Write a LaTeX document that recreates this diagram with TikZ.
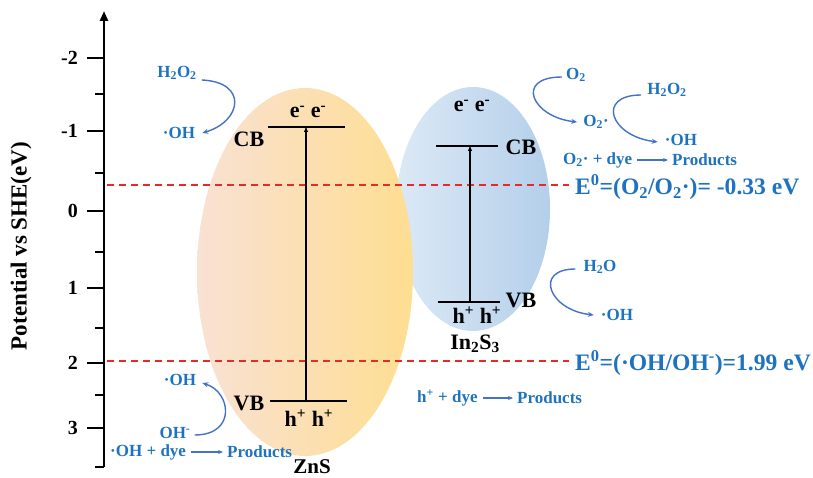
\documentclass[tikz,border=0pt]{standalone}
\usepackage{fontspec}
\setmainfont{Liberation Serif}
\usetikzlibrary{shapes.geometric,arrows.meta,calc}
\definecolor{tblue}{RGB}{30,115,192}
\definecolor{ablue}{RGB}{68,114,196}
\definecolor{rdash}{RGB}{235,40,40}
\definecolor{znL}{RGB}{249,225,212}
\definecolor{znR}{RGB}{254,222,145}
\definecolor{inL}{RGB}{220,233,246}
\definecolor{inR}{RGB}{180,207,234}
\newcommand\fsz[1]{\fontsize{#1}{#1}\selectfont}
\begin{document}
\begin{tikzpicture}[x=1pt,y=-1pt,
 lbl/.style={font=\fsz{22}\bfseries, inner sep=1pt},
 ticklbl/.style={font=\fsz{20}\bfseries, anchor=east, inner sep=1pt},
 bt/.style={font=\fsz{17}\bfseries, text=tblue, inner sep=1pt},
 eq/.style={font=\fsz{23.6}\bfseries, text=tblue, inner sep=1pt, anchor=west},
 barrow/.style={ablue, line width=1.4pt, -{Stealth[length=6pt,width=5pt]}},
 sarrow/.style={ablue, line width=1.1pt, -{Stealth[length=5pt,width=4pt]}},
 band/.style={line width=2pt},
 karrow/.style={line width=1.6pt, -{Latex[length=6pt,width=4.5pt]}},
 reddash/.style={rdash, line width=1.3pt, dash pattern=on 7pt off 5pt},
]
\useasboundingbox (0,0) rectangle (813,478);

% ellipses
\node[ellipse, minimum width=154, minimum height=244, left color=inL, right color=inR] (inbody) at (473,209) {};
\node[ellipse, minimum width=216, minimum height=368, left color=znL, right color=znR] (znbody) at (305,272) {};

% axis
\coordinate (ax0) at (104,467);
\coordinate (ax1) at (104,11);
\draw[line width=2.5pt, -{Triangle[length=10pt,width=8pt]}] (ax0) -- (ax1);
\foreach \y/\t [count=\i] in {58/-2,131/-1,211/0,288/1,363/2,428/3} {
  \draw[line width=2.2pt] (87,\y) -- (104,\y);
  \node[ticklbl] (tick\i) at (79,\y) {\t};
}
\foreach \y in {94,173,252,328,395,467} {
  \draw[line width=2.2pt] (95,\y) -- (104,\y);
}
\node[rotate=90, font=\fsz{23}\bfseries] (ylab) at (21,246) {Potential vs SHE(eV)};

% equations / dashed lines
\node[eq] (e1) at (574,187) {E\textsuperscript{0}=(O\textsubscript{2}/O\textsubscript{2}·)= -0.33 eV};
\node[eq] (e2) at (574,363) {E\textsuperscript{0}=(·OH/OH\textsuperscript{-})=1.99 eV};
\coordinate (d1) at (107,185);
\coordinate (d2) at (107,361);
\draw[reddash] (d1) -- ([xshift=-5pt]d1 -| e1.west);
\draw[reddash] (d2) -- ([xshift=-5pt]d2 -| e2.west);

% ZnS bands
\coordinate (zcbL) at (268,127); \coordinate (zcbR) at (345,127);
\coordinate (zvbL) at (270,401); \coordinate (zvbR) at (347,401);
\coordinate (zcb) at (306,127); \coordinate (zvb) at (306,401);
\draw[band] (zcbL) -- (zcbR);
\draw[band] (zvbL) -- (zvbR);
\draw[karrow] (zvb) -- ([yshift=1]zcb);
\node[lbl] (zcbl) at (249,139) {CB};
\node[lbl] (zvbl) at (249,403) {VB};
\node[lbl] (zel) at (308,112) {e\textsuperscript{-} e\textsuperscript{-}};
\node[lbl] (zhl) at (309,418) {h\textsuperscript{+} h\textsuperscript{+}};
\node[lbl, font=\fsz{21}\bfseries] (znsl) at (312,467) {ZnS};

% In2S3 bands
\coordinate (icbL) at (436,146); \coordinate (icbR) at (498,146);
\coordinate (ivbL) at (438,302); \coordinate (ivbR) at (500,302);
\coordinate (icb) at (470,146); \coordinate (ivb) at (470,302);
\draw[band] (icbL) -- (icbR);
\draw[band] (ivbL) -- (ivbR);
\draw[karrow] (ivb) -- ([yshift=1]icb);
\node[lbl] (icbl) at (521,147) {CB};
\node[lbl] (ivbl) at (521,300) {VB};
\node[lbl] (iel) at (472,106) {e\textsuperscript{-} e\textsuperscript{-}};
\node[lbl] (ihl) at (477,315) {h\textsuperscript{+} h\textsuperscript{+}};
\node[lbl] (insl) at (475,344) {In\textsubscript{2}S\textsubscript{3}};

% left top reaction
\node[bt] (h2o2L) at (177,73) {H\textsubscript{2}O\textsubscript{2}};
\node[bt] (ohL1) at (179,133) {·OH};
\draw[barrow] ([shift={(4,7)}]h2o2L.east) .. controls +(46,2) and +(40,-12) .. ([xshift=6]ohL1.east);

% left bottom reaction
\node[bt] (ohL2) at (180,380) {·OH};
\node[bt] (ohm) at (175,433) {OH\textsuperscript{-}};
\draw[barrow] ([shift={(3,2)}]ohm.east) .. controls +(42,0) and +(29,9) .. ([shift={(5,3)}]ohL2.east);
\node[bt, anchor=west] (dye1) at (109,452) {·OH + dye};
\node[bt, anchor=west] (prod1) at (226,452) {Products};
\draw[sarrow] ([xshift=4]dye1.east) -- ([xshift=-3]prod1.west);

% right top reactions
\node[bt] (o2) at (576,75) {O\textsubscript{2}};
\node[bt] (o2r) at (596,122) {O\textsubscript{2}·};
\node[bt] (h2o2R) at (667,90) {H\textsubscript{2}O\textsubscript{2}};
\node[bt] (ohR1) at (681,140) {·OH};
\draw[barrow] ([shift={(-3,2)}]o2.west) .. controls +(-48,0) and +(-45,-5) .. ([xshift=-5]o2r.west);
\draw[barrow] ([shift={(-5,5)}]h2o2R.west) .. controls +(-45,0) and +(-48,-6) .. ([shift={(-6,2)}]ohR1.west);
\node[bt, anchor=west] (dye2) at (562,160) {O\textsubscript{2}· + dye};
\node[bt, anchor=west] (prod2) at (671,160) {Products};
\draw[sarrow] ([xshift=4]dye2.east) -- ([xshift=-3]prod2.west);

% right bottom reaction
\node[bt] (h2o) at (600,267) {H\textsubscript{2}O};
\node[bt] (ohR2) at (617,315) {·OH};
\draw[barrow] ([shift={(-7,2)}]h2o.west) .. controls +(-42,0) and +(-45,-5) .. ([xshift=-6]ohR2.west);
\node[bt, anchor=west] (dye3) at (416,398) {h\textsuperscript{+} + dye};
\node[bt, anchor=west] (prod3) at (516,398) {Products};
\draw[sarrow] ([xshift=4]dye3.east) -- ([xshift=-3]prod3.west);
\end{tikzpicture}
\end{document}
